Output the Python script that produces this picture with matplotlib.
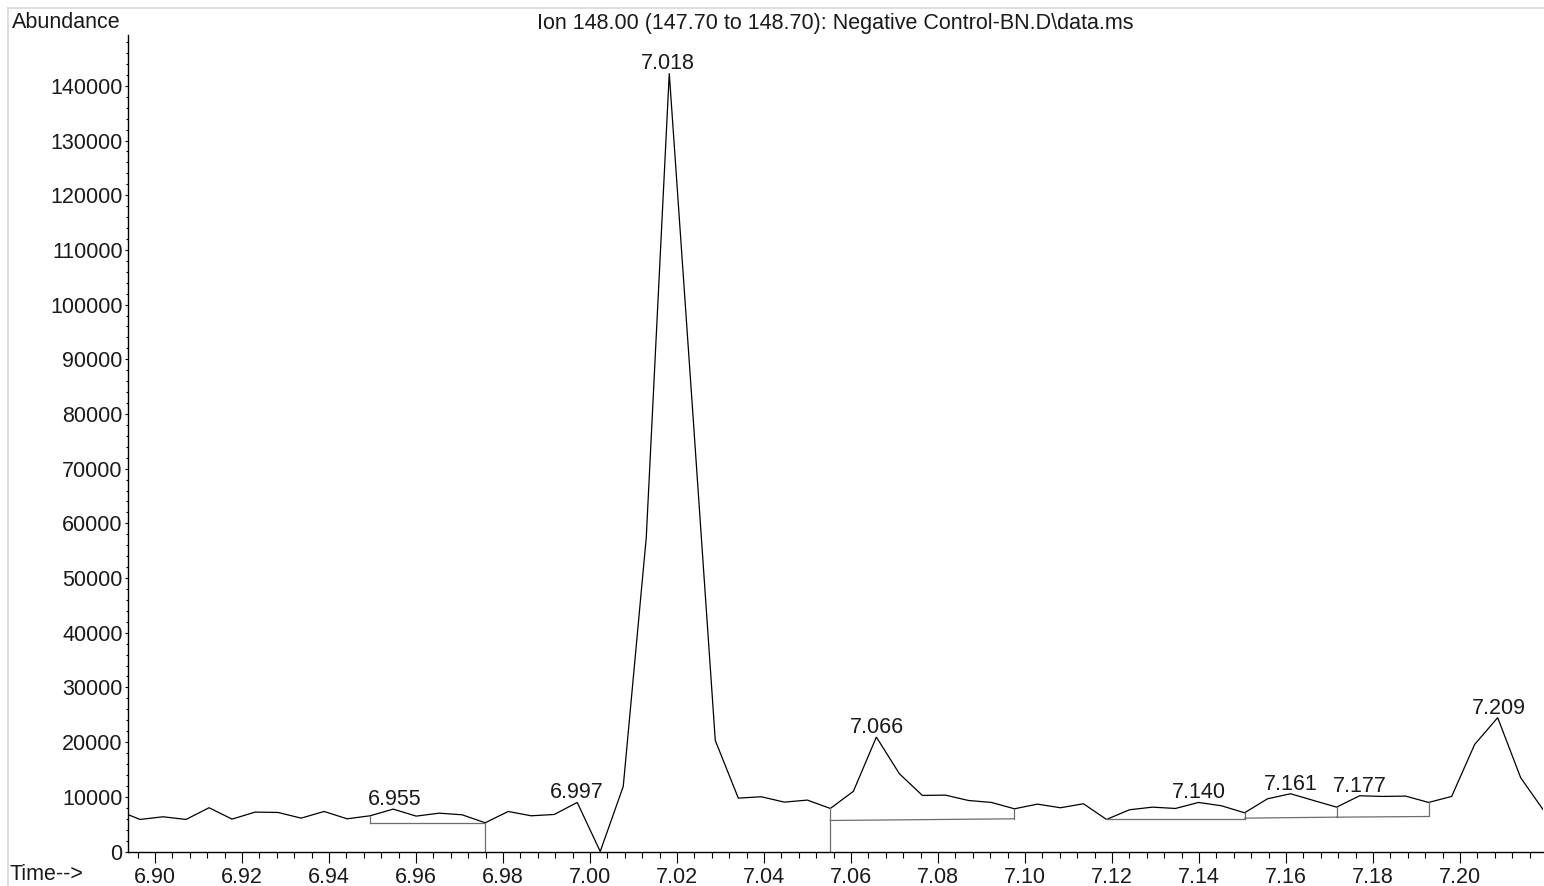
import numpy as np
import matplotlib
matplotlib.use("Agg")
import matplotlib.pyplot as plt
from matplotlib.ticker import MultipleLocator, FormatStrFormatter
from matplotlib.lines import Line2D

plt.rcParams['font.family'] = ['Liberation Sans', 'DejaVu Sans']

# Extracted ion chromatogram, m/z 148.00
scan_times = [
    6.89126, 6.89655, 6.90184, 6.90713, 6.91242, 6.91771, 6.92300, 6.92829,
    6.93358, 6.93887, 6.94416, 6.94945, 6.95474, 6.96003, 6.96532, 6.97061,
    6.97590, 6.98119, 6.98648, 6.99177, 6.99706, 7.00235, 7.00764, 7.01293,
    7.01822, 7.02351, 7.02880, 7.03409, 7.03938, 7.04467, 7.04996, 7.05525,
    7.06054, 7.06583, 7.07112, 7.07641, 7.08170, 7.08699, 7.09228, 7.09757,
    7.10286, 7.10815, 7.11344, 7.11873, 7.12402, 7.12931, 7.13460, 7.13989,
    7.14518, 7.15047, 7.15576, 7.16105, 7.16634, 7.17163, 7.17692, 7.18221,
    7.18750, 7.19279, 7.19808, 7.20337, 7.20866, 7.21395, 7.21924,
]
abundance = [
    7560, 5860, 6350, 5860, 8000, 5920, 7200, 7140,
    6100, 7320, 5980, 6530, 7750, 6470, 7010, 6710,
    5250, 7320, 6530, 6770, 8970, 0, 11900, 57400,
    142300, 81600, 20300, 9760, 10010, 9030, 9400, 7870,
    11000, 20920, 14220, 10250, 10310, 9330, 8970, 7810,
    8660, 8000, 8730, 5860, 7630, 8110, 7870, 8970,
    8360, 7080, 9640, 10560, 9330, 8110, 10190, 10070,
    10130, 8970, 10070, 19580, 24470, 13490, 7500,
]

# Integrated peaks: apex retention time labels
peak_labels = ["6.955", "6.997", "7.018", "7.066", "7.140", "7.161", "7.177", "7.209"]
peak_apex_times = [6.95474, 6.99706, 7.01822, 7.06583, 7.13989, 7.16105, 7.17692, 7.20866]

# Integration baselines: (start time, start level, end time, end level)
baseline_start_t = [6.94945, 7.05525, 7.11873, 7.15047, 7.17163]
baseline_start_v = [5250, 5670, 5860, 6100, 6280]
baseline_end_t = [6.97590, 7.09757, 7.15047, 7.17163, 7.19279]
baseline_end_v = [5250, 5980, 5860, 6280, 6400]

# Vertical event markers: curve to baseline level
event_t = [6.94945, 7.09757, 7.15047, 7.17163, 7.19279]
event_v = [5250, 5980, 5860, 6280, 6400]
# Drop lines to zero abundance
drop_t = [6.97590, 7.05525]

title_text = r"Ion 148.00 (147.70 to 148.70): Negative Control-BN.D\data.ms"

t = np.array(scan_times)
a = np.array(abundance, dtype=float)

W, H = 1544, 886
fig = plt.figure(figsize=(W / 100, H / 100), dpi=100)
ax = fig.add_axes([128 / W, (H - 851.5) / H, 1415 / W, (851.5 - 35) / H])

FS = 15.5
TXT = '#1a1a1a'
BL = '#6e6e6e'

ax.plot(t, a, color='black', lw=0.9, clip_on=True, solid_joinstyle='miter')

for t0, v0, t1, v1 in zip(baseline_start_t, baseline_start_v, baseline_end_t, baseline_end_v):
    ax.plot([t0, t1], [v0, v1], color=BL, lw=0.9)
for te, ve in zip(event_t, event_v):
    ax.plot([te, te], [ve, np.interp(te, t, a)], color=BL, lw=0.9)
for td in drop_t:
    ax.plot([td, td], [0, np.interp(td, t, a)], color=BL, lw=0.9)

for lab, ta in zip(peak_labels, peak_apex_times):
    ax.annotate(lab, xy=(float(lab), np.interp(ta, t, a)), xytext=(0, 3),
                textcoords='offset points', ha='center', va='baseline',
                fontsize=FS, color=TXT)

ax.set_xlim(6.89379, 7.21908)
ax.set_ylim(0, 149300)

for s in ['top', 'right']:
    ax.spines[s].set_visible(False)
for s in ['left', 'bottom']:
    ax.spines[s].set_linewidth(1.0)
    ax.spines[s].set_color('black')

ax.xaxis.set_major_locator(MultipleLocator(0.02))
ax.xaxis.set_minor_locator(MultipleLocator(0.004))
ax.xaxis.set_major_formatter(FormatStrFormatter('%.2f'))
ax.yaxis.set_major_locator(MultipleLocator(10000))
ax.yaxis.set_minor_locator(MultipleLocator(2000))
ax.yaxis.set_major_formatter(FormatStrFormatter('%d'))

ax.tick_params(axis='x', which='major', direction='out', length=8, width=0.8,
               pad=3.5, labelsize=FS, labelcolor=TXT)
ax.tick_params(axis='x', which='minor', direction='out', length=4, width=0.8)
ax.tick_params(axis='y', which='major', direction='out', length=2.4, width=0.8,
               pad=1.5, labelsize=FS, labelcolor=TXT)
ax.tick_params(axis='y', which='minor', direction='out', length=1.5, width=0.8)

fig.text(12 / W, 1 - 27.5 / H, "Abundance", ha='left', va='baseline', fontsize=FS, color=TXT)
fig.text(10 / W, 1 - 885 / H, "Time-->", ha='left', va='bottom', fontsize=FS, color=TXT)
fig.text(835 / W, 1 - 28.5 / H, title_text, ha='center', va='baseline', fontsize=FS, color=TXT)

# Light frame around the report area
fig.add_artist(Line2D([7.5 / W, 1], [1 - 7.5 / H, 1 - 7.5 / H], transform=fig.transFigure,
                      color='#d8d8d8', lw=1.2))
fig.add_artist(Line2D([7.5 / W, 7.5 / W], [0, 1 - 7.5 / H], transform=fig.transFigure,
                      color='#d8d8d8', lw=1.2))

fig.savefig("out.png", dpi=100)
